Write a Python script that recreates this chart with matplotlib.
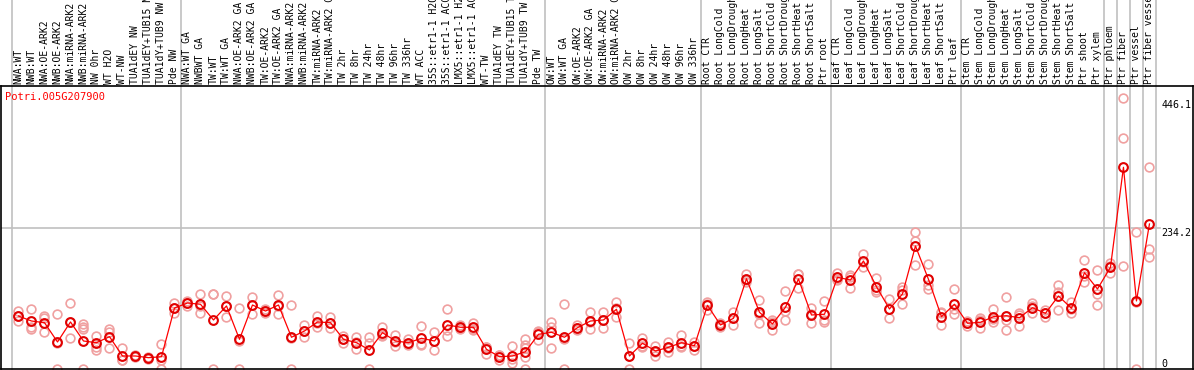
import matplotlib
matplotlib.use("Agg")
import matplotlib.pyplot as plt
import matplotlib.transforms as mtransforms

gene = "Potri.005G207900"

labels = [
    "NWA:WT", "NWB:WT", "NWA:OE-ARK2", "NWB:OE-ARK2", "NWA:miRNA-ARK2", "NWB:miRNA-ARK2",
    "NW 0hr", "WT H2O", "WT-NW", "TUA1dEY NW", "TUA1dEY+TUB15 NW", "TUA1dY+TUB9 NW", "Pde NW",
    "NWA:WT GA", "NWBWT GA", "TW:WT", "TW:WT GA", "NWA:OE-ARK2 GA", "NWB:OE-ARK2 GA",
    "TW:OE-ARK2", "TW:OE-ARK2 GA", "NWA:miRNA-ARK2 GA", "NWB:miRNA-ARK2 GA", "TW:miRNA-ARK2",
    "TW:miRNA-ARK2 GA", "TW 2hr", "TW 8hr", "TW 24hr", "TW 48hr", "TW 96hr", "TW 336hr",
    "WT ACC", "35S::etr1-1 H2O", "35S::etr1-1 ACC", "LMX5::etr1-1 H2O", "LMX5::etr1-1 ACC",
    "WT-TW", "TUA1dEY TW", "TUA1dEY+TUB15 TW", "TUA1dY+TUB9 TW", "Pde TW",
    "OW:WT", "OW:WT GA", "OW:OE-ARK2", "OW:OE-ARK2 GA", "OW:miRNA-ARK2", "OW:miRNA-ARK2 GA",
    "OW 2hr", "OW 8hr", "OW 24hr", "OW 48hr", "OW 96hr", "OW 336hr",
    "Root CTR", "Root LongCold", "Root LongDrought", "Root LongHeat", "Root LongSalt",
    "Root ShortCold", "Root ShortDrought", "Root ShortHeat", "Root ShortSalt", "Ptr root",
    "Leaf CTR", "Leaf LongCold", "Leaf LongDrought", "Leaf LongHeat", "Leaf LongSalt",
    "Leaf ShortCold", "Leaf ShortDrought", "Leaf ShortHeat", "Leaf ShortSalt", "Ptr leaf",
    "Stem CTR", "Stem LongCold", "Stem LongDrought", "Stem LongHeat", "Stem LongSalt",
    "Stem ShortCold", "Stem ShortDrought", "Stem ShortHeat", "Stem ShortSalt",
    "Ptr shoot", "Ptr xylem", "Ptr phloem", "Ptr fiber", "Ptr vessel", "Ptr fiber vessel",
]

means = [
    88.0, 79.7, 76.9, 44.9, 78.1, 46.5, 43.7, 53.7, 21.6, 21.6, 18.8, 20.4, 101.3,
    109.6, 107.5, 81.4, 104.7, 49.3, 106.3, 96.3, 106.3, 52.7, 63.1, 78.1, 76.9, 49.3,
    43.7, 31.6, 60.3, 46.5, 43.7, 51.0, 46.5, 73.1, 69.3, 69.3, 32.7, 20.4, 21.6, 28.7, 57.6,
    61.0, 52.7, 68.6, 79.7, 81.4, 99.2, 21.6, 42.7, 29.9, 36.0, 43.7, 38.7,
    105.8, 73.1, 84.2, 150.0, 94.2, 74.8, 102.5, 149.5, 89.7, 90.9,
    152.3, 147.8, 179.4, 136.7, 99.7, 124.6, 204.3, 149.0, 86.9, 107.5,
    75.9, 77.6, 86.9, 88.5, 85.2, 101.8, 92.5, 121.3, 100.8,
    160.0, 132.9, 168.9, 335.0, 113.0, 240.9,
]

reps = [
    [96.3, 79.7, 88.0], [99.7, 70.3, 66.4], [88.0, 85.2, 61.5], [91.4, 0.0, 43.6],
    [109.6, 51.5, 78.0], [74.8, 69.8, 66.4, 0.0], [54.8, 36.5, 31.6], [66.4, 61.5, 34.9],
    [34.9, 15.0, 15.0], [23.3, 19.9, 21.6], [19.9, 16.6, 19.0], [41.5, 15.0, 0.0],
    [109.6, 93.0, 101.0],
    [113.5, 104.7, 110.0], [124.6, 92.5, 105.0], [124.6, 124.6, 0.0], [121.3, 86.9, 105.0],
    [101.3, 0.0, 46.0], [120.0, 91.4, 106.0], [93.0, 99.0, 96.0], [123.0, 91.4, 105.0],
    [106.3, 0.0, 52.0], [73.1, 53.2, 63.0], [88.0, 70.3, 76.0], [86.4, 68.6, 76.0],
    [43.2, 50.0, 54.0], [53.2, 33.2, 45.0], [53.2, 43.2, 0.0], [70.3, 56.5, 54.0],
    [56.5, 38.2, 45.0], [41.5, 39.9, 50.0], [71.4, 39.9, 42.0], [61.5, 31.6, 46.0],
    [99.7, 54.8, 65.0], [73.1, 66.4, 68.0], [76.4, 64.8, 67.0], [37.0, 24.9, 36.0],
    [23.3, 15.0, 23.0], [38.2, 10.0, 17.0], [49.8, 39.9, 34.9, 19.9, 0.0], [63.6, 48.2, 61.0],
    [78.6, 70.3, 34.9], [108.0, 0.0, 50.0], [73.1, 64.8, 68.0], [94.7, 66.4, 78.0],
    [94.2, 67.6, 82.0], [110.8, 85.9, 101.0], [42.7, 0.0, 22.0], [52.0, 37.0, 39.0],
    [38.7, 22.1, 29.0], [45.3, 27.7, 35.0], [56.5, 37.0, 38.0], [45.3, 31.6, 39.0],
    [110.8, 98.0, 108.0], [75.9, 69.3, 74.0], [94.2, 73.1, 85.0], [157.8, 147.8, 145.0],
    [114.6, 75.9, 92.0], [81.4, 64.8, 78.0], [130.0, 81.4, 96.0], [157.8, 134.0, 157.0],
    [101.8, 75.9, 91.0], [113.0, 81.4, 78.6],
    [159.0, 147.8, 150.0], [156.1, 134.0, 153.0], [191.0, 170.0, 177.0], [150.7, 131.2, 128.0],
    [116.3, 84.2, 99.0], [135.7, 107.5, 131.0], [227.0, 212.6, 172.8], [174.4, 139.5, 132.4],
    [94.2, 73.1, 93.0], [132.4, 90.9, 99.0],
    [80.2, 75.9, 72.0], [84.2, 67.6, 81.0], [99.2, 78.6, 83.0], [119.1, 81.4, 64.8],
    [93.5, 71.9, 90.0], [109.1, 92.5, 104.0], [98.0, 86.9, 93.0], [139.5, 127.4, 98.0],
    [110.8, 92.5, 99.0],
    [180.6, 145.0, 154.0], [164.0, 125.0, 106.3], [176.6, 159.0, 171.0],
    [449.7, 383.2, 171.1], [227.0, 0.0, 112.0], [335.0, 199.3, 186.0],
]

group_edges = [-0.5, 12.5, 40.5, 52.5, 62.5, 72.5, 83.5, 84.5, 85.5, 86.5, 87.5]
ytick_vals = [446.1, 234.2, 0]
ytick_text = ["446.1", "234.2", "0"]

W, H = 1194, 370
fig = plt.figure(figsize=(W / 100, H / 100), dpi=100)
ax = fig.add_axes([1 / W, 1 / H, 1192 / W, 283 / H])
ax.set_xlim(-1.346, 90.35)
ax.set_ylim(0, 470)
ax.set_xticks([])
ax.set_yticks([])
for s in ax.spines.values():
    s.set_color("black")
    s.set_linewidth(1.2)

# group separators run through the label strip too
for e in group_edges:
    ax.axvline(e, color="#c0c0c0", lw=1.2, zorder=0, clip_on=False, ymax=1.31)
ax.axhline(234.2, xmax=(1160 - 1) / 1192, color="#c0c0c0", lw=1.2, zorder=0)

for i, r in enumerate(reps):
    ax.plot([i] * len(r), r, "o", ms=6.3, mfc="none", mec="#f0a0a0", mew=1.2,
            clip_on=False, zorder=2)
x = list(range(len(means)))
ax.plot(x, means, "-", color="red", lw=0.9, zorder=3)
ax.plot(x, means, "o", ms=6.3, mfc="none", mec="#e00000", mew=1.5, zorder=4)

mono = "DejaVu Sans Mono"
trans = mtransforms.blended_transform_factory(ax.transData, fig.transFigure)
for i, lab in enumerate(labels):
    ax.text(i, (H - 84) / H, lab, transform=trans, rotation=90, ha="center", va="bottom",
            fontsize=7, family=mono, clip_on=False)

fig.text(5 / W, (H - 97) / H, gene, color="red", fontsize=7.5, family=mono, va="center")
for v, t in zip(ytick_vals, ytick_text):
    ax.text(87.9, v, t, fontsize=7.2, family=mono,
            va="bottom" if v == 0 else "top", ha="left")

fig.savefig("out.png", dpi=100)
